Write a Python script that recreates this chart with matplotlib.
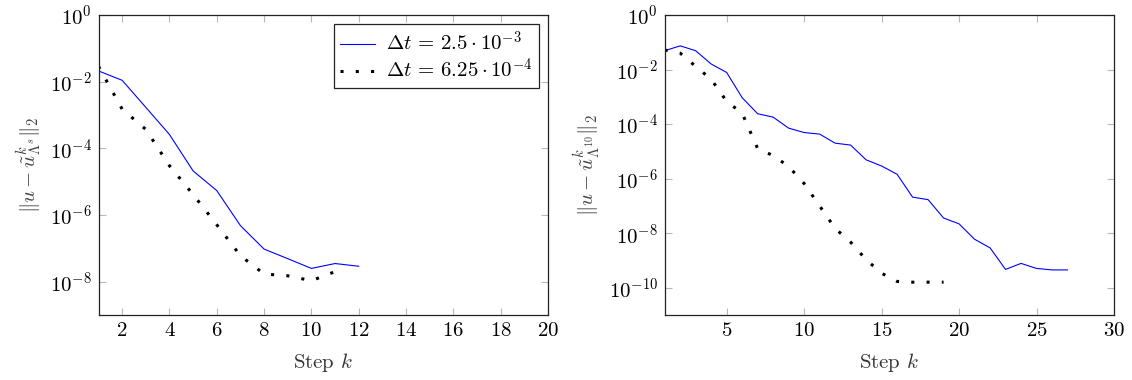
import matplotlib
matplotlib.use("Agg")
import matplotlib.pyplot as plt
from matplotlib.ticker import FixedLocator, NullLocator

plt.rcParams['font.family'] = 'serif'
plt.rcParams['font.serif'] = ['cmr10', 'DejaVu Serif']
plt.rcParams['mathtext.fontset'] = 'cm'
plt.rcParams['axes.formatter.use_mathtext'] = True
plt.rcParams['axes.unicode_minus'] = False

# ---- data: left panel ----
k_left_a = [1, 2, 3, 4, 5, 6, 7, 8, 9, 10, 11, 12]
err_left_a = [2.1e-2, 1.1e-2, 1.7e-3, 2.6e-4, 2.1e-5, 5.4e-6, 4.8e-7, 9.5e-8,
              4.9e-8, 2.5e-8, 3.5e-8, 2.9e-8]
k_left_b = [1, 2, 3, 4, 5, 6, 7, 8, 9, 10, 11]
err_left_b = [2.9e-2, 1.5e-3, 3.7e-4, 3.0e-5, 4.1e-6, 5.1e-7, 6.0e-8, 1.7e-8,
              1.5e-8, 1.07e-8, 2.0e-8]

# ---- data: right panel ----
k_right_a = list(range(1, 28))
err_right_a = [4.9e-2, 7.4e-2, 4.9e-2, 1.6e-2, 7.8e-3, 9.3e-4, 2.4e-4, 1.8e-4,
               7.1e-5, 4.9e-5, 4.3e-5, 2.0e-5, 1.7e-5, 4.9e-6, 2.9e-6, 1.45e-6,
               2.1e-7, 1.7e-7, 3.6e-8, 2.2e-8, 6.0e-9, 2.9e-9, 4.7e-10, 7.8e-10,
               5.1e-10, 4.5e-10, 4.5e-10]
k_right_b = list(range(1, 20))
err_right_b = [5.2e-2, 4.0e-2, 1.3e-2, 4.4e-3, 6.8e-4, 2.5e-4, 1.26e-5, 7.0e-6,
               2.8e-6, 6.6e-7, 1.0e-7, 1.5e-8, 4.7e-9, 1.07e-9, 3.4e-10, 1.7e-10,
               1.6e-10, 1.6e-10, 1.6e-10]

label_a = r'$\Delta t\, =\, 2.5\cdot 10^{-3}$'
label_b = r'$\Delta t\, =\, 6.25\cdot 10^{-4}$'

xticks_left = [2, 4, 6, 8, 10, 12, 14, 16, 18, 20]
xticks_right = [5, 10, 15, 20, 25, 30]
yticks_left = [1e0, 1e-2, 1e-4, 1e-6, 1e-8]
yticks_right = [1e0, 1e-2, 1e-4, 1e-6, 1e-8, 1e-10]

fig = plt.figure(figsize=(11.32, 3.8), dpi=100)
ax1 = fig.add_axes([98.5 / 1132, 65 / 380, 449.5 / 1132, 300 / 380])
ax2 = fig.add_axes([664.7 / 1132, 65 / 380, 449.3 / 1132, 300 / 380])

dot_style = (0, (1.0, 4.0))

def style(ax, xlim, ylim, xticks, yticks, ylabel):
    ax.set_yscale('log')
    ax.set_xlim(*xlim)
    ax.set_ylim(*ylim)
    ax.xaxis.set_major_locator(FixedLocator(xticks))
    ax.yaxis.set_major_locator(FixedLocator(yticks))
    ax.yaxis.set_minor_locator(NullLocator())
    ax.xaxis.set_minor_locator(NullLocator())
    ax.tick_params(which='major', direction='in', length=5, width=0.8,
                   color='#b8b8b8', top=True, right=True, labelsize=15,
                   labelcolor='black', pad=5)
    for s in ax.spines.values():
        s.set_color('#222222')
        s.set_linewidth(0.9)
    ax.set_xlabel(r'Step $k$', fontsize=15, color='#333333', labelpad=8)
    ax.set_ylabel(ylabel, fontsize=15, color='#444444', labelpad=4)

ax1.plot(k_left_a, err_left_a, color='#0000ff', lw=0.8, label=label_a)
ax1.plot(k_left_b, err_left_b, color='black', lw=2.2, linestyle=dot_style,
         dash_capstyle='butt', label=label_b)
style(ax1, (1, 20), (1e-9, 1e0), xticks_left, yticks_left,
      r'$\|u-\tilde{u}^k_{\Lambda^s}\|_2$')
leg = ax1.legend(loc='upper right', fontsize=15, frameon=True, fancybox=False,
                 edgecolor='#222222', framealpha=1, handlelength=1.7,
                 borderpad=0.3, labelspacing=0.15, handletextpad=0.5,
                 borderaxespad=0.45)
leg.get_frame().set_linewidth(0.9)

ax2.plot(k_right_a, err_right_a, color='#0000ff', lw=0.8, label=label_a)
ax2.plot(k_right_b, err_right_b, color='black', lw=2.2, linestyle=dot_style,
         dash_capstyle='butt', label=label_b)
style(ax2, (1, 30), (1e-11, 1e0), xticks_right, yticks_right,
      r'$\|u-\tilde{u}^k_{\Lambda^{10}}\|_2$')

fig.savefig('out.png', dpi=100)
